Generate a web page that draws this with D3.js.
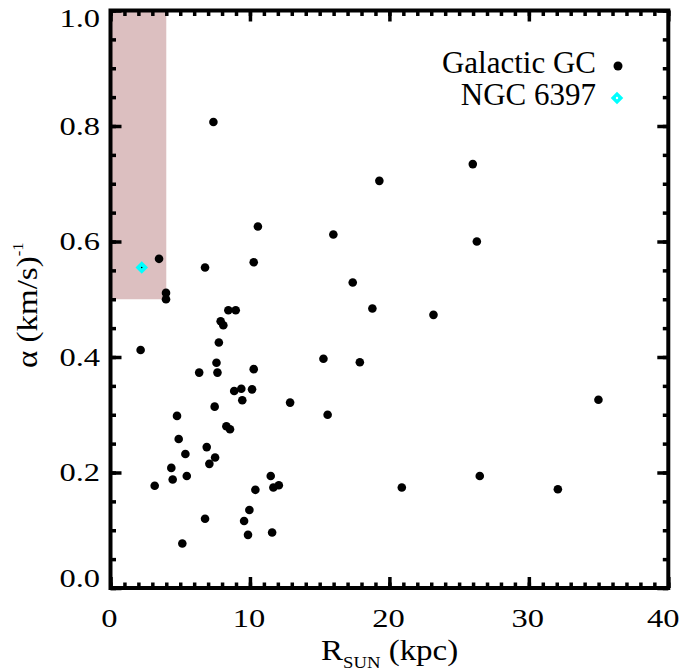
<!DOCTYPE html>
<html>
<head>
<meta charset="utf-8">
<script src="https://cdn.jsdelivr.net/npm/d3@7"></script>
<style>
  body { margin: 0; background: #fff; }
  text { font-family: "Liberation Serif", "Times New Roman", serif; fill: #000; }
</style>
</head>
<body>
<div id="chart"></div>
<script>
// Galactic globular clusters: distance from the Sun (kpc) and alpha ((km/s)^-1)
const gcR = [7.38, 25.98, 19.28, 10.57, 15.98, 26.27, 3.48, 6.78, 10.27, 17.37,
  3.98, 3.98, 8.45, 8.98, 18.78, 23.16, 7.90, 8.09, 7.77, 2.16,
  15.27, 17.88, 7.60, 6.36, 7.67, 10.27, 8.87, 9.38, 10.15, 9.45,
  7.47, 12.88, 34.99, 4.77, 15.57, 8.31, 8.57, 4.89, 6.90, 5.37,
  7.50, 7.09, 4.36, 4.46, 5.47, 11.49, 26.48, 3.17, 11.68, 12.07,
  20.89, 10.39, 32.08, 9.96, 6.78, 9.58, 9.86, 11.59, 5.15];
const gcAlpha = [0.807, 0.734, 0.705, 0.626, 0.612, 0.600, 0.570, 0.555, 0.564, 0.529,
  0.511, 0.500, 0.481, 0.481, 0.484, 0.473, 0.462, 0.455, 0.425, 0.412,
  0.397, 0.391, 0.390, 0.373, 0.373, 0.379, 0.341, 0.345, 0.344, 0.325,
  0.314, 0.321, 0.326, 0.298, 0.300, 0.280, 0.275, 0.258, 0.244, 0.232,
  0.226, 0.215, 0.208, 0.188, 0.194, 0.194, 0.194, 0.177, 0.174, 0.178,
  0.174, 0.170, 0.171, 0.135, 0.120, 0.116, 0.092, 0.096, 0.077];
const ngcR = [2.24];
const ngcAlpha = [0.555];

// shaded zone: R < 4 kpc, alpha > 0.5
const zoneR = [0, 4];
const zoneAlpha = [0.5, 1.0];

const xTicks = [0, 10, 20, 30, 40];
const yTicks = [0.0, 0.2, 0.4, 0.6, 0.8, 1.0];
const xTickLabels = ["0", "10", "20", "30", "40"];
const yTickLabels = ["0.0", "0.2", "0.4", "0.6", "0.8", "1.0"];
const legendLabels = ["Galactic GC", "NGC 6397"];

const width = 685, height = 672;
const mLeft = 110.5, mRight = 668.3, mTop = 10.5, mBottom = 588;

const svg = d3.select("#chart").append("svg")
  .attr("width", width)
  .attr("height", height);

const x = d3.scaleLinear().domain([0, 40]).range([mLeft, mRight]);
const y = d3.scaleLinear().domain([0, 1]).range([mBottom, mTop]);

// shaded region
svg.append("rect")
  .attr("x", x(zoneR[0]))
  .attr("y", y(zoneAlpha[1]))
  .attr("width", x(zoneR[1]) - x(zoneR[0]))
  .attr("height", y(zoneAlpha[0]) - y(zoneAlpha[1]))
  .attr("fill", "#dcbfc0");

// data points
svg.append("g").selectAll("circle")
  .data(gcR.map((r, i) => [r, gcAlpha[i]]))
  .join("circle")
  .attr("cx", d => x(d[0]))
  .attr("cy", d => y(d[1]))
  .attr("r", 4.3)
  .attr("fill", "#000");

const diamond = d3.symbol().type(d3.symbolDiamond2).size(100);
const ngc = svg.append("g").selectAll("g")
  .data(ngcR.map((r, i) => [r, ngcAlpha[i]]))
  .join("g")
  .attr("transform", d => `translate(${x(d[0])},${y(d[1])})`);
ngc.append("path").attr("d", diamond).attr("fill", "#00ffff");
ngc.append("circle").attr("r", 0.8).attr("fill", "#000");

// axes: inward ticks on all four sides
function ticks(axis, minorVals, majorVals, tr) {
  const g1 = svg.append("g").attr("transform", tr)
    .call(axis.tickValues(minorVals).tickSize(5.5).tickFormat(""));
  const g2 = svg.append("g").attr("transform", tr)
    .call(axis.tickValues(majorVals).tickSize(11).tickFormat(""));
  [g1, g2].forEach(g => {
    g.select(".domain").remove();
    g.selectAll("line").attr("stroke", "#000").attr("stroke-width", 3.5);
  });
}
const xMinor = d3.range(0, 41, 1);
const yMinor = d3.range(0, 1.0001, 0.05);
ticks(d3.axisTop(x), xMinor, xTicks, `translate(0,${mBottom})`);
ticks(d3.axisBottom(x), xMinor, xTicks, `translate(0,${mTop})`);
ticks(d3.axisRight(y), yMinor, yTicks, `translate(${mLeft},0)`);
ticks(d3.axisLeft(y), yMinor, yTicks, `translate(${mRight},0)`);

svg.append("rect")
  .attr("x", mLeft).attr("y", mTop)
  .attr("width", mRight - mLeft).attr("height", mBottom - mTop)
  .attr("fill", "none")
  .attr("stroke", "#000")
  .attr("stroke-width", 4);

// tick labels (wide IDL-style glyphs)
const tickFont = 25, stretch = 1.3;
xTicks.forEach((t, i) => {
  const px = i === xTicks.length - 1 ? x(t) - 5 : x(t) - 1;
  svg.append("g").attr("transform", `translate(${px},627) scale(${stretch},1)`)
    .append("text")
    .attr("text-anchor", "middle")
    .style("font-size", tickFont + "px")
    .text(xTickLabels[i]);
});
yTicks.forEach((t, i) => {
  let py = y(t);
  if (i === 0) py = mBottom - 10;
  if (i === yTicks.length - 1) py = mTop + 8;
  svg.append("g").attr("transform", `translate(100,${py + 8.5}) scale(${stretch},1)`)
    .append("text")
    .attr("text-anchor", "end")
    .style("font-size", tickFont + "px")
    .text(yTickLabels[i]);
});

// x title
const xt = svg.append("g").attr("transform", "translate(321,660) scale(1.1,1)")
  .append("text").style("font-size", "30px");
xt.append("tspan").text("R");
xt.append("tspan").attr("dy", 8).style("font-size", "17px").text("SUN");
xt.append("tspan").attr("dy", -8).text(" (kpc)");

// y title
const yt = svg.append("g").attr("transform", "translate(37,368) rotate(-90) scale(1.1,1)")
  .append("text").style("font-size", "30px");
yt.append("tspan").text("α  (km/s)");
yt.append("tspan").attr("dy", -14).style("font-size", "15px").text("-1");

// legend
svg.append("text")
  .attr("x", 596).attr("y", 73)
  .attr("text-anchor", "end")
  .style("font-size", "31px")
  .text(legendLabels[0]);
svg.append("circle").attr("cx", 618).attr("cy", 66).attr("r", 4.5).attr("fill", "#000");
svg.append("text")
  .attr("x", 596).attr("y", 105)
  .attr("text-anchor", "end")
  .style("font-size", "31px")
  .text(legendLabels[1]);
svg.append("path").attr("d", diamond)
  .attr("transform", "translate(617,98)")
  .attr("fill", "#00ffff");
svg.append("circle").attr("cx", 617).attr("cy", 98).attr("r", 1.2).attr("fill", "#fff");
</script>
</body>
</html>
